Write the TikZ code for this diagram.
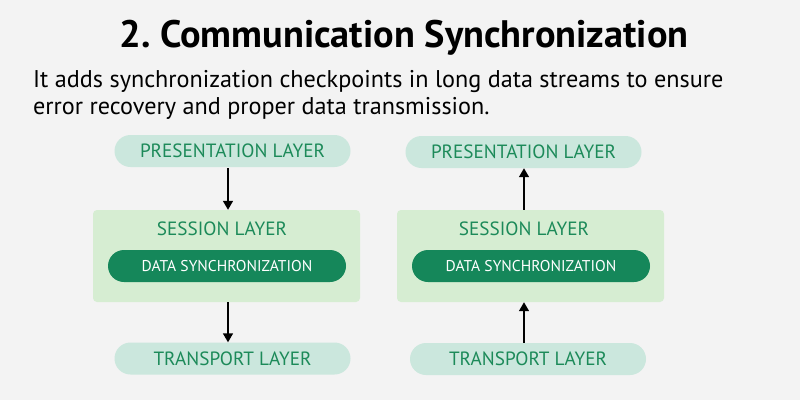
\documentclass[tikz,border=0pt]{standalone}
\usepackage{fontspec}
\setmainfont{PT Sans}
\usetikzlibrary{arrows.meta}
\definecolor{bgc}{HTML}{F3F3F3}
\definecolor{pillc}{HTML}{CBE7DD}
\definecolor{sessc}{HTML}{D6EDD2}
\definecolor{darkg}{HTML}{15875A}
\definecolor{textg}{HTML}{1C8A59}
\tikzset{
  pill/.style={rounded corners=16pt, fill=pillc, minimum width=236pt, minimum height=32pt,
    text=textg, font=\fontsize{19.2}{21}\selectfont, inner sep=0pt},
  sessbox/.style={rounded corners=4pt, fill=sessc, minimum width=267pt, minimum height=92pt, inner sep=0pt},
  syncpill/.style={rounded corners=16pt, fill=darkg, minimum width=238pt, minimum height=32pt,
    text=white, font=\fontsize{15.6}{17}\selectfont, inner sep=0pt},
  sesstitle/.style={text=textg, font=\fontsize{19.2}{21}\selectfont, inner sep=0pt},
  flow/.style={-{Triangle[length=9pt,width=10pt]}, line width=1.5pt, black}
}
\begin{document}
\begin{tikzpicture}[x=1pt,y=-1pt]
\fill[bgc] (0,0) rectangle (800,400);
\useasboundingbox (0,0) rectangle (800,400);

% heading and description
\node[font=\bfseries\fontsize{38.3}{44}\selectfont, inner sep=0pt] (title) at (404,38) {2.\ Communication Synchronization};
\node[anchor=north west, align=left, font=\fontsize{24.2}{27}\selectfont, inner sep=0pt] (desc) at (33,70)
  {It adds synchronization checkpoints in long data streams to ensure\\error recovery and proper data transmission.};

% left stack: data moving down
\node[pill] (lpres) at (232.5,151) {PRESENTATION LAYER};
\node[sessbox] (lsess) at (226.5,256) {};
\node[sesstitle] (lsesst) at (222,229) {SESSION LAYER};
\node[syncpill] (lsync) at (227,266) {DATA SYNCHRONIZATION};
\node[pill] (ltrans) at (232.5,358.5) {TRANSPORT LAYER};
\draw[flow] (lpres.south -| 228,0) ++(0,1) coordinate (la1) -- (la1 |- lsess.north);
\draw[flow] (lsess.south -| 228,0) coordinate (la2) -- (la2 |- ltrans.north);

% right stack: data moving up
\node[pill] (rpres) at (523.5,152) {PRESENTATION LAYER};
\node[sessbox] (rsess) at (530.5,256) {};
\node[sesstitle] (rsesst) at (524,229) {SESSION LAYER};
\node[syncpill] (rsync) at (531,266) {DATA SYNCHRONIZATION};
\node[pill] (rtrans) at (528,359) {TRANSPORT LAYER};
\draw[flow] (rsess.north -| 524,0) coordinate (ra1) -- (ra1 |- rpres.south);
\draw[flow] (rtrans.north -| 524,0) coordinate (ra2) -- (ra2 |- rsess.south);
\end{tikzpicture}
\end{document}
